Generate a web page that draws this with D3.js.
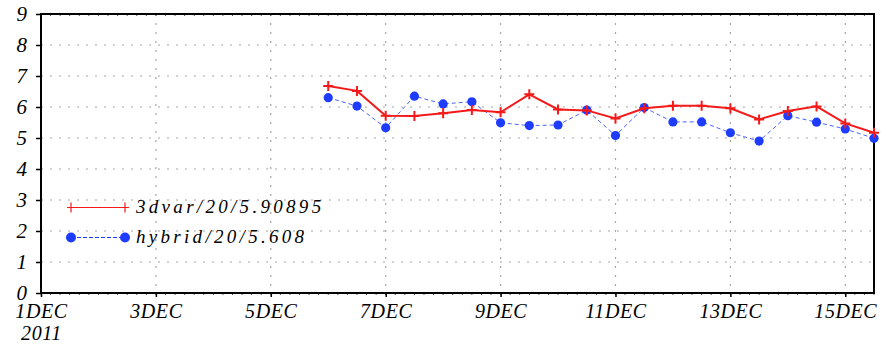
<!DOCTYPE html>
<html>
<head>
<meta charset="utf-8">
<script src="https://cdn.jsdelivr.net/npm/d3@7/dist/d3.min.js"></script>
<style>
  html, body { margin: 0; padding: 0; background: #fff; }
  svg { display: block; }
</style>
</head>
<body>
<svg id="chart" width="892" height="346"></svg>
<script>
// Valid times (UTC), one every 12 hours
const times = [
  "2011-12-06T00", "2011-12-06T12", "2011-12-07T00", "2011-12-07T12",
  "2011-12-08T00", "2011-12-08T12", "2011-12-09T00", "2011-12-09T12",
  "2011-12-10T00", "2011-12-10T12", "2011-12-11T00", "2011-12-11T12",
  "2011-12-12T00", "2011-12-12T12", "2011-12-13T00", "2011-12-13T12",
  "2011-12-14T00", "2011-12-14T12", "2011-12-15T00", "2011-12-15T12"
];
const threeDvar = [6.68, 6.52, 5.72, 5.71, 5.80, 5.90, 5.83, 6.41, 5.92, 5.89,
                   5.63, 5.96, 6.04, 6.04, 5.96, 5.60, 5.87, 6.02, 5.47, 5.17];
const hybrid    = [6.30, 6.03, 5.33, 6.35, 6.10, 6.17, 5.49, 5.40, 5.42, 5.90,
                   5.08, 5.98, 5.52, 5.52, 5.17, 4.90, 5.72, 5.51, 5.29, 4.99];
const legendLabels = ["3dvar/20/5.90895", "hybrid/20/5.608"];
const yTicks = [0, 1, 2, 3, 4, 5, 6, 7, 8, 9];
const xDomain = ["2011-12-01T00", "2011-12-15T12"];
const yDomain = [0, 9];

(function () {
const FONT = "'Liberation Serif', 'DejaVu Serif', serif";
const parse = d3.utcParse("%Y-%m-%dT%H");
const svg = d3.select("#chart");

const pL = 41, pR = 874, pT = 14, pB = 293;
const x = d3.scaleUtc().domain(xDomain.map(parse)).range([pL, pR]);
const y = d3.scaleLinear().domain(yDomain).range([pB, pT]);

const RED = "#f41a1a", BLUE = "#1e3cff", GRID = "#a6a6a6";

// dotted grid
const xMajor = d3.utcDay.every(2).range(parse("2011-12-01T00"), parse("2011-12-15T13"));
svg.append("g").selectAll("line").data(yTicks.filter(v => v > 0 && v < 9)).join("line")
  .attr("x1", pL).attr("x2", pR).attr("y1", d => y(d)).attr("y2", d => y(d))
  .attr("stroke", GRID).attr("stroke-width", 1.2).attr("stroke-dasharray", "2,7");
svg.append("g").selectAll("line").data(xMajor.slice(1)).join("line")
  .attr("x1", d => x(d)).attr("x2", d => x(d)).attr("y1", pT).attr("y2", pB)
  .attr("stroke", GRID).attr("stroke-width", 1.2).attr("stroke-dasharray", "2,7");

// minor ticks along top and bottom of the frame
const xMinor = d3.utcHour.every(4).range(parse("2011-12-01T00"), parse("2011-12-15T13"));
svg.append("g").selectAll("line").data(xMinor).join("line")
  .attr("x1", d => x(d)).attr("x2", d => x(d)).attr("y1", pB).attr("y2", pB + 2)
  .attr("stroke", "#555").attr("stroke-width", 1);
svg.append("g").selectAll("line").data(xMinor).join("line")
  .attr("x1", d => x(d)).attr("x2", d => x(d)).attr("y1", pT).attr("y2", pT + 2)
  .attr("stroke", "#555").attr("stroke-width", 1);

// axes
const yAxis = d3.axisLeft(y).tickValues(yTicks).tickSize(5).tickPadding(9).tickFormat(d3.format("d"));
const gy = svg.append("g").attr("transform", `translate(${pL},0)`).call(yAxis)
  .attr("font-family", FONT).attr("font-style", "italic").attr("font-size", 21);
gy.select(".domain").remove();
gy.selectAll(".tick line").attr("stroke", "#000").attr("stroke-width", 1.5);
gy.selectAll(".tick text").attr("dy", "0.32em");

const fmtDay = d3.utcFormat("%-d");
const xAxis = d3.axisBottom(x).tickValues(xMajor).tickSize(4).tickPadding(6)
  .tickFormat(d => fmtDay(d) + "DEC");
const gx = svg.append("g").attr("transform", `translate(0,${pB})`).call(xAxis)
  .attr("font-family", FONT).attr("font-style", "italic").attr("font-size", 20);
gx.select(".domain").remove();
gx.selectAll(".tick line").attr("stroke", "#000").attr("stroke-width", 1.5);
gx.selectAll(".tick text").attr("dy", "0.74em").attr("letter-spacing", 0.6);
gx.selectAll(".tick").filter((d, i) => i === 0).append("text")
  .attr("y", 32).attr("dy", "0.74em").attr("text-anchor", "middle").attr("fill", "#000")
  .attr("letter-spacing", 0.6).text(d3.utcFormat("%Y"));

// frame
svg.append("rect").attr("x", pL).attr("y", pT).attr("width", pR - pL).attr("height", pB - pT)
  .attr("fill", "none").attr("stroke", "#000").attr("stroke-width", 2);

const pts = k => times.map((t, i) => [parse(t), k[i]]);
const line = d3.line().x(d => x(d[0])).y(d => y(d[1]));
const plus = (g, s, w, color) => g.append("path")
  .attr("d", `M${-s},0H${s}M0,${-s}V${s}`).attr("stroke", color).attr("stroke-width", w).attr("fill", "none");

// hybrid
svg.append("path").datum(pts(hybrid)).attr("d", line).attr("fill", "none")
  .attr("stroke", BLUE).attr("stroke-width", 1).attr("stroke-dasharray", "4,3").attr("opacity", 0.8);
svg.append("g").selectAll("circle").data(pts(hybrid)).join("circle")
  .attr("cx", d => x(d[0])).attr("cy", d => y(d[1])).attr("r", 4.6).attr("fill", BLUE);

// 3dvar
svg.append("path").datum(pts(threeDvar)).attr("d", line).attr("fill", "none")
  .attr("stroke", RED).attr("stroke-width", 2);
svg.append("g").selectAll("g").data(pts(threeDvar)).join("g")
  .attr("transform", d => `translate(${x(d[0])},${y(d[1])})`)
  .each(function () { plus(d3.select(this), 5, 2, RED); });

// legend
const lg = svg.append("g");
lg.append("line").attr("x1", 71).attr("x2", 125).attr("y1", 207.5).attr("y2", 207.5)
  .attr("stroke", RED).attr("stroke-width", 1.2);
[71, 125].forEach(px => {
  lg.append("path").attr("transform", `translate(${px},207.5)`)
    .attr("d", "M-4,0H4M0,-5V5").attr("stroke", RED).attr("stroke-width", 1.2);
});
lg.append("line").attr("x1", 71).attr("x2", 125).attr("y1", 237.5).attr("y2", 237.5)
  .attr("stroke", BLUE).attr("stroke-width", 1).attr("stroke-dasharray", "4,2");
[71, 125].forEach(px => lg.append("circle").attr("cx", px).attr("cy", 237.5).attr("r", 5).attr("fill", BLUE));
lg.selectAll("text").data(legendLabels).join("text")
  .attr("x", 136).attr("y", (d, i) => 213 + i * 30)
  .attr("font-family", FONT).attr("font-style", "italic")
  .attr("font-size", 19).attr("letter-spacing", 3.3).text(d => d);
})();
</script>
</body>
</html>
